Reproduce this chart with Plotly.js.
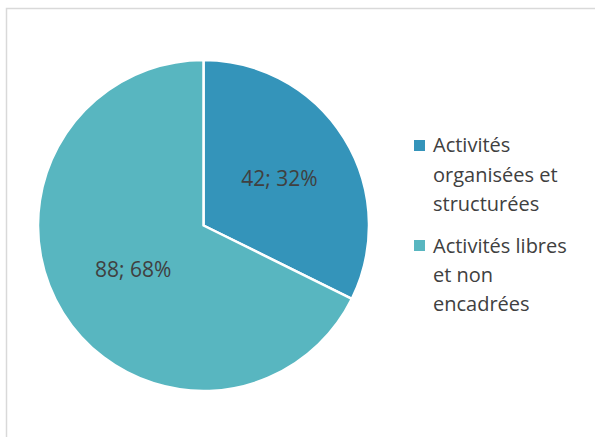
<!DOCTYPE html>
<html>
<head>
<meta charset="utf-8">
<script src="https://cdn.plot.ly/plotly-3.0.1.min.js"></script>
<style>html,body{margin:0;padding:0;background:#fff;}#chart{width:595px;height:437px;}</style>
</head>
<body>
<div id="chart"></div>
<script>
// Data
const categories = ['Activités organisées et structurées', 'Activités libres et non encadrées'];
const values = [42, 88];
const colors = ['#3494BA', '#58B6C0'];
const legendLines = [['Activités', 'organisées et', 'structurées'], ['Activités libres', 'et non', 'encadrées']];

const W = 595, H = 437;
const px = x => x / W;
const py = y => 1 - y / H;

const FONT = 'Open Sans, Liberation Sans, sans-serif';
const TXT = '#404040';

const trace = {
  type: 'pie',
  labels: categories,
  values: values,
  sort: false,
  direction: 'clockwise',
  rotation: 0,
  marker: {colors: colors, line: {color: '#ffffff', width: 2.5}},
  texttemplate: '%{value}; %{percent:.0%}',
  textposition: 'inside',
  insidetextorientation: 'horizontal',
  textfont: {family: FONT, size: 21, color: TXT},
  hoverinfo: 'label+value+percent',
  domain: {x: [px(38), px(369)], y: [py(391), py(60)]},
  showlegend: false
};

const shapes = [{
  type: 'rect', xref: 'paper', yref: 'paper',
  x0: px(6.5), x1: px(W + 20), y0: py(H + 20), y1: py(8.5),
  line: {color: '#D9D9D9', width: 1.5}, fillcolor: 'rgba(0,0,0,0)', layer: 'below'
}];
const annotations = [];
const itemTop = [140, 240];
const lineGap = 29.3;
legendLines.forEach((lines, i) => {
  const top = itemTop[i];
  shapes.push({
    type: 'rect', xref: 'paper', yref: 'paper',
    x0: px(414), x1: px(425), y0: py(top + 11), y1: py(top),
    line: {width: 0}, fillcolor: colors[i]
  });
  lines.forEach((t, j) => {
    annotations.push({
      xref: 'paper', yref: 'paper', x: px(431), y: py(top + 5 + j * lineGap),
      xanchor: 'left', yanchor: 'middle', showarrow: false, text: t,
      font: {family: FONT, size: 20, color: TXT}
    });
  });
});

const layout = {
  width: W, height: H,
  margin: {l: 0, r: 0, t: 0, b: 0},
  paper_bgcolor: '#ffffff',
  showlegend: false,
  shapes: shapes,
  annotations: annotations
};

Plotly.newPlot('chart', [trace], layout, {displayModeBar: false, staticPlot: true});
</script>
</body>
</html>
